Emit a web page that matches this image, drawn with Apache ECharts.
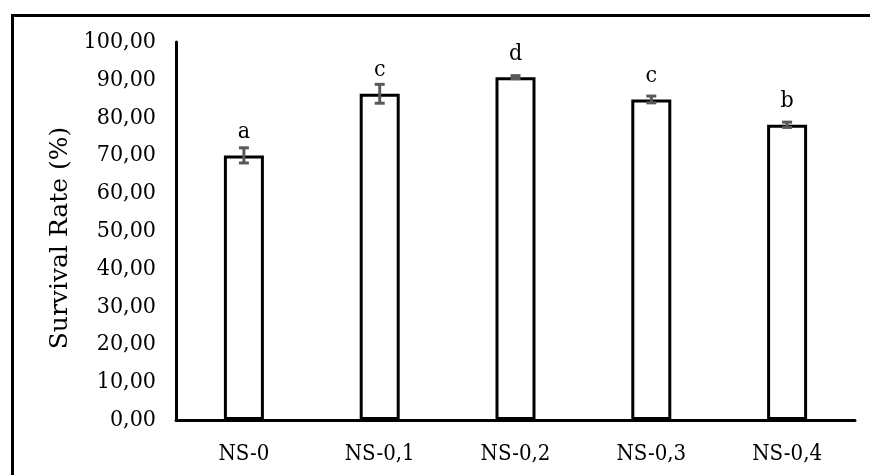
<!DOCTYPE html>
<html><head><meta charset="utf-8">
<script src="https://cdn.jsdelivr.net/npm/echarts@6/dist/echarts.min.js"></script>
<style>html,body{margin:0;padding:0;background:#fff}#c{width:870px;height:475px}</style>
</head><body><div id="c"></div>
<script>
var categories = ['NS-0', 'NS-0,1', 'NS-0,2', 'NS-0,3', 'NS-0,4'];
var survival = [70.0, 86.3, 90.7, 84.8, 78.1];
var errors = [2.0, 2.5, 0.4, 0.9, 0.7];
var letters = ['a', 'c', 'd', 'c', 'b'];
var yTicks = { min: 0, max: 100, interval: 10 };

var FONT = "'DejaVu Serif Condensed', 'DejaVu Serif', serif";
var chart = echarts.init(document.getElementById('c'));
chart.setOption({
  animation: false,
  backgroundColor: '#fff',
  graphic: [{
    type: 'rect', left: 10, top: 13,
    shape: { width: 900, height: 500 },
    style: { fill: 'none', stroke: '#000', lineWidth: 3 }, z: -1
  }],
  grid: { left: 176, right: 15, top: 42, bottom: 55 },
  xAxis: {
    type: 'category', data: categories,
    axisLine: { lineStyle: { color: '#000', width: 3 } },
    axisTick: { show: false },
    axisLabel: { color: '#000', fontFamily: FONT, fontSize: 22, margin: 23 }
  },
  yAxis: {
    type: 'value', min: yTicks.min, max: yTicks.max, interval: yTicks.interval,
    name: 'Survival Rate (%)', nameLocation: 'middle', nameGap: 99,
    nameTextStyle: { color: '#000', fontFamily: "'DejaVu Serif', serif", fontSize: 25, padding: [0, 14, 0, 0] },
    axisLine: { show: true, lineStyle: { color: '#000', width: 3 } },
    axisTick: { show: false },
    splitLine: { show: false },
    axisLabel: {
      color: '#000', fontFamily: FONT, fontSize: 23, margin: 20,
      formatter: function (v) { return v.toFixed(2).replace('.', ','); }
    }
  },
  series: [{
    type: 'bar', data: survival, barWidth: 40,
    itemStyle: { color: '#fff', borderColor: '#000', borderWidth: 3 },
    label: {
      show: true, position: 'top', distance: 12,
      formatter: function (p) { return letters[p.dataIndex]; },
      color: '#000', fontFamily: FONT, fontSize: 23
    }
  }, {
    type: 'custom',
    data: survival.map(function (v, i) { return [i, v - errors[i], v + errors[i]]; }),
    renderItem: function (params, api) {
      var lo = api.coord([api.value(0), api.value(1)]);
      var hi = api.coord([api.value(0), api.value(2)]);
      var w = 10;
      var st = { stroke: '#595959', lineWidth: 3, fill: null };
      return { type: 'group', children: [
        { type: 'line', shape: { x1: hi[0], y1: hi[1], x2: lo[0], y2: lo[1] }, style: st },
        { type: 'line', shape: { x1: hi[0] - w / 2, y1: hi[1], x2: hi[0] + w / 2, y2: hi[1] }, style: st },
        { type: 'line', shape: { x1: lo[0] - w / 2, y1: lo[1], x2: lo[0] + w / 2, y2: lo[1] }, style: st }
      ]};
    },
    z: 5
  }]
});
</script></body></html>
